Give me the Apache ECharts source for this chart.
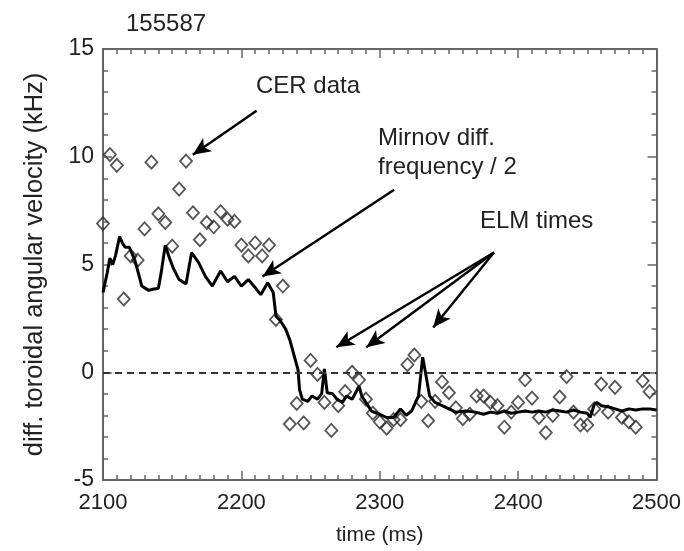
<!DOCTYPE html>
<html>
<head>
<meta charset="utf-8">
<script src="https://cdn.jsdelivr.net/npm/echarts@6/dist/echarts.min.js"></script>
<style>
html,body{margin:0;padding:0;background:#fff;}
#chart{width:684px;height:551px;}
</style>
</head>
<body>
<div id="chart"></div>
<script>
// Mirnov diff. frequency / 2 (line)
var mirnovTime = [2100,2103,2105,2107,2109,2112,2114,2116,2119,2121,2123,2126,2128,2133,2136,2140,2142,2145,2148,2151,2155,2160,2164,2169,2174,2179,2185,2190,2195,2200,2205,2209,2214,2219,2223,2225,2228,2232,2235,2238,2241,2242,2244,2248,2251,2255,2258,2260,2262,2266,2269,2273,2276,2280,2285,2287,2291,2294,2300,2305,2310,2315,2319,2323,2328,2331,2333,2336,2340,2345,2350,2355,2362,2369,2375,2380,2385,2390,2395,2400,2405,2410,2415,2420,2425,2430,2435,2440,2445,2450,2452,2455,2457,2460,2465,2470,2475,2480,2485,2490,2495,2500];
var mirnovValue = [3.7,4.6,5.3,5.0,5.4,6.3,6.0,5.8,5.8,5.5,5.2,4.5,4.0,3.8,3.85,3.9,4.6,5.9,5.3,4.8,4.3,4.1,5.55,5.1,4.45,4.0,4.7,4.2,4.45,4.0,4.3,4.0,3.6,4.15,3.7,2.6,2.4,2.0,1.5,0.8,0.1,-0.8,-1.25,-1.35,-1.1,-1.25,-1.0,0.15,-0.95,-1.0,-1.25,-1.4,-1.1,-1.25,-0.65,-1.1,-1.5,-1.8,-1.95,-2.1,-2.1,-1.7,-2.0,-1.8,-1.1,0.7,0.0,-1.1,-1.4,-1.55,-1.7,-1.85,-1.8,-1.85,-1.95,-1.85,-1.9,-1.8,-1.9,-1.85,-1.8,-1.85,-1.8,-1.85,-1.75,-1.8,-1.85,-1.75,-1.85,-1.9,-2.1,-1.5,-1.4,-1.55,-1.6,-1.7,-1.8,-1.7,-1.75,-1.7,-1.7,-1.75];

// CER data (diamonds)
var cerTime = [2100,2105,2110,2115,2120,2125,2130,2135,2140,2145,2150,2155,2160,2165,2170,2175,2180,2185,2190,2195,2200,2205,2210,2215,2220,2225,2230,2235,2240,2245,2250,2255,2260,2265,2270,2275,2280,2285,2290,2295,2300,2305,2310,2315,2320,2325,2330,2335,2340,2345,2350,2355,2360,2365,2370,2375,2380,2385,2390,2395,2400,2405,2410,2415,2420,2425,2430,2435,2440,2445,2450,2455,2460,2465,2470,2475,2480,2485,2490,2495];
var cerValue = [6.9,10.1,9.6,3.4,5.4,5.2,6.65,9.75,7.35,6.95,5.85,8.5,9.8,7.4,6.15,6.95,6.75,7.45,7.1,7.0,5.9,5.4,6.0,5.4,5.9,2.45,4.0,-2.4,-1.45,-2.35,0.55,-0.1,-1.4,-2.7,-1.55,-0.9,0.0,-0.35,-1.25,-1.9,-2.3,-2.6,-2.2,-2.2,0.35,0.8,-1.35,-2.25,-1.35,-0.45,-0.95,-1.65,-2.15,-1.95,-1.1,-1.1,-1.4,-1.55,-2.55,-1.85,-1.4,-0.35,-1.2,-2.1,-2.8,-2.0,-1.15,-0.2,-1.85,-2.45,-2.45,-1.7,-0.55,-1.85,-0.7,-2.1,-2.3,-2.55,-0.4,-0.9];

// axis ticks
var xTicks = [2100,2200,2300,2400,2500];
var yTicks = [-5,0,5,10,15];

// annotation texts and arrows [fromTime, fromValue, toTime, toValue]
var titleText = '155587';
var xName = 'time (ms)';
var yName = 'diff. toroidal angular velocity (kHz)';
var arrowCER = [2211, 12.13, 2164.9, 10.09];
var arrowMirnov = [2310.4, 8.47, 2215.3, 4.44];
var arrowELM = [[2382.5, 5.56, 2268.6, 1.16],[2382.5, 5.56, 2290.3, 1.16],[2382.5, 5.56, 2338.6, 2.08]];

var FONT = '"Liberation Sans", Arial, Helvetica, sans-serif';
var axisColor = '#666';
var textColor = '#222';

var chart = echarts.init(document.getElementById('chart'), null, {renderer:'canvas'});

function pairs(a,b){ return a.map(function(t,i){ return [t,b[i]]; }); }
var arrowLines = [arrowCER, arrowMirnov].concat(arrowELM).map(function(a){
  return [{coord:[a[0],a[1]], symbol:'none'},{coord:[a[2],a[3]], symbol:'arrow'}];
});

var option = {
  animation:false,
  backgroundColor:'#fff',
  title:{
    text:titleText, left:121, top:7,
    textStyle:{fontFamily:FONT, fontSize:24, fontWeight:'normal', color:textColor}
  },
  grid:{left:103, right:26, top:49, bottom:70},
  xAxis:[{
    type:'value', min:2100, max:2500, interval:100,
    name:xName, nameLocation:'middle', nameGap:45,
    nameTextStyle:{fontFamily:FONT, fontSize:21, color:textColor},
    axisLine:{show:true, onZero:false, lineStyle:{color:axisColor, width:2}},
    axisTick:{show:true, inside:true, length:9, lineStyle:{color:axisColor, width:1.5}},
    minorTick:{show:true, splitNumber:10, length:5, lineStyle:{color:axisColor, width:1.5}},
    axisLabel:{fontFamily:FONT, fontSize:22, color:textColor, margin:12,
      formatter:function(v){ return xTicks.indexOf(v)>=0 ? String(v) : ''; }},
    splitLine:{show:false}
  },{
    type:'value', position:'top', min:2100, max:2500, interval:100,
    axisLine:{show:true, onZero:false, lineStyle:{color:axisColor, width:2}},
    axisTick:{show:true, inside:true, length:9, lineStyle:{color:axisColor, width:1.5}},
    minorTick:{show:true, splitNumber:10, length:5, lineStyle:{color:axisColor, width:1.5}},
    axisLabel:{show:false}, splitLine:{show:false}
  }],
  yAxis:[{
    type:'value', min:-5, max:15, interval:5,
    name:yName, nameLocation:'middle', nameGap:55, nameRotate:90,
    nameTextStyle:{fontFamily:FONT, fontSize:25.5, color:textColor},
    axisLine:{show:true, onZero:false, lineStyle:{color:axisColor, width:2}},
    axisTick:{show:true, inside:true, length:9, lineStyle:{color:axisColor, width:1.5}},
    minorTick:{show:true, splitNumber:5, length:5, lineStyle:{color:axisColor, width:1.5}},
    axisLabel:{fontFamily:FONT, fontSize:23, color:textColor, margin:9,
      formatter:function(v){ return yTicks.indexOf(v)>=0 ? String(v) : ''; }},
    splitLine:{show:false}
  },{
    type:'value', position:'right', min:-5, max:15, interval:5,
    axisLine:{show:true, onZero:false, lineStyle:{color:axisColor, width:2}},
    axisTick:{show:true, inside:true, length:9, lineStyle:{color:axisColor, width:1.5}},
    minorTick:{show:true, splitNumber:5, length:5, lineStyle:{color:axisColor, width:1.5}},
    axisLabel:{show:false}, splitLine:{show:false}
  }],
  graphic:[
    {type:'text', left:256, top:74, style:{text:'CER data', font:'24px '+FONT, fill:textColor}},
    {type:'text', left:378, top:126, style:{text:'Mirnov diff.', font:'24px '+FONT, fill:textColor}},
    {type:'text', left:378, top:155, style:{text:'frequency / 2', font:'24px '+FONT, fill:textColor}},
    {type:'text', left:480, top:209, style:{text:'ELM times', font:'24px '+FONT, fill:textColor}}
  ],
  series:[
    {
      type:'scatter', name:'CER data', data:pairs(cerTime, cerValue),
      symbol:'diamond', symbolSize:[12,13],
      itemStyle:{color:'rgba(0,0,0,0)', borderColor:'#2a2a2a', borderWidth:1.8},
      z:3
    },
    {
      type:'line', name:'Mirnov', data:pairs(mirnovTime, mirnovValue),
      showSymbol:false, symbol:'none',
      lineStyle:{color:'#000', width:3},
      z:4,
      markLine:{
        silent:true, symbol:['none','none'],
        label:{show:false},
        lineStyle:{color:'#333', type:[7,5], width:2},
        data:[{yAxis:0}]
      }
    },
    {
      type:'line', name:'arrows', data:[],
      markLine:{
        silent:true, symbolSize:[12,18],
        label:{show:false},
        lineStyle:{color:'#000', type:'solid', width:2.4},
        data:arrowLines
      }
    }
  ]
};
chart.setOption(option);
</script>
</body>
</html>
